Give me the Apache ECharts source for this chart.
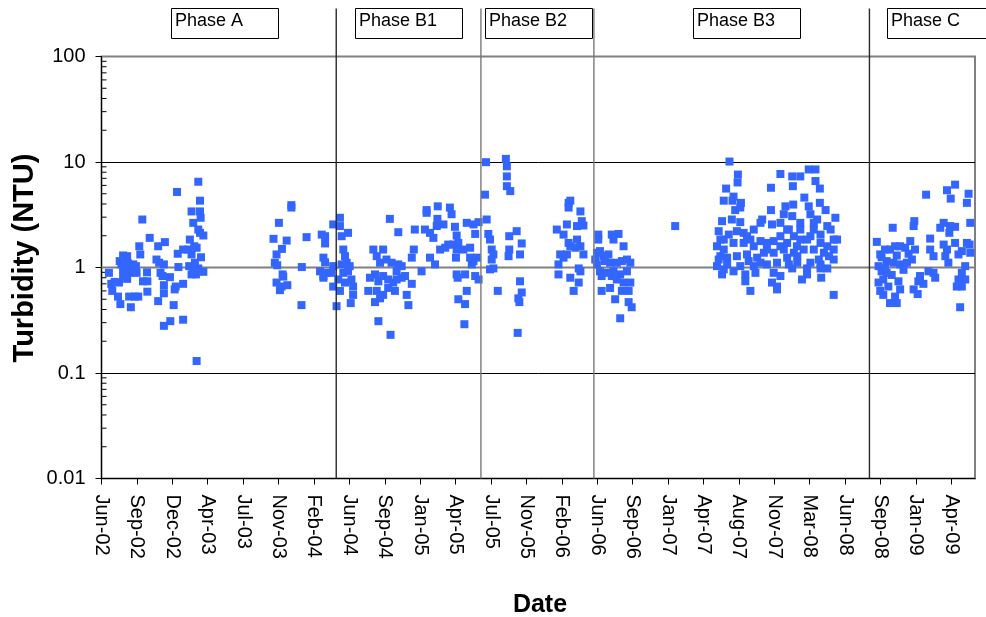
<!DOCTYPE html>
<html>
<head>
<meta charset="utf-8">
<script src="https://cdn.jsdelivr.net/npm/echarts@6/dist/echarts.min.js"></script>
<style>
  html, body { margin: 0; padding: 0; background: #ffffff; }
  #chart { width: 986px; height: 617px; }
</style>
</head>
<body>
<div id="chart"></div>
<script>
// Sample days are counted from 1 June 2002; turbidity in NTU.
const TICK_STEP_DAYS = 105;
const AXIS_END_DAY = 2590;

const tickLabels = ['Jun-02','Sep-02','Dec-02','Apr-03','Jul-03','Nov-03','Feb-04','Jun-04','Sep-04',
  'Jan-05','Apr-05','Jul-05','Nov-05','Feb-06','Jun-06','Sep-06','Jan-07','Apr-07','Aug-07','Nov-07',
  'Mar-08','Jun-08','Sep-08','Jan-09','Apr-09'];
const yTickLabels = ['0.01', '0.1', '1', '10', '100'];

const phaseNames = ['Phase A', 'Phase B1', 'Phase B2', 'Phase B3', 'Phase C'];
const phaseStartDays = [0, 696, 1125, 1460, 2277];

// [day, NTU]
const phaseA = [
  [22,0.89],[29,0.70],[32,0.60],[39,0.73],[52,0.72],[49,0.53],[56,0.45],[54,1.15],[64,1.30],[67,1.19],
  [59,1.07],[64,0.96],[69,0.92],[74,0.98],[79,1.09],[84,0.89],[76,0.78],[76,1.28],[64,0.83],[82,0.53],
  [87,0.42],[92,0.96],[94,1.07],[102,1.03],[104,0.89],[99,0.53],[109,0.53],[112,1.59],[115,1.33],[121,2.85],
  [123,0.74],[135,0.90],[136,0.74],[136,0.59],[143,1.91],[163,1.19],[168,1.59],[171,1.11],[175,0.89],[185,1.07],
  [188,1.74],[181,0.83],[185,0.68],[185,0.57],[168,0.48],[203,0.81],[185,0.28],[204,0.31],[214,0.44],[217,0.62],
  [220,0.66],[224,5.2],[226,1.35],[228,1.01],[242,1.48],[242,0.70],[242,0.32],[257,1.48],[262,1.84],[267,3.4],
  [267,1.33],[272,2.65],[275,1.59],[282,1.54],[260,1.03],[267,0.86],[272,0.96],[277,1.11],[280,0.86],[287,0.98],
  [295,1.25],[302,0.91],[287,6.5],[292,4.3],[292,3.4],[294,2.96],[287,2.29],[292,2.13],[302,2.01],[282,0.13],
  [510,1.87],[526,2.65],[563,3.9],[563,3.7],[549,1.80],[535,1.50],[519,1.33],[514,1.11],[521,1.05],[537,0.86],
  [539,0.82],[519,0.72],[534,0.66],[529,0.61],[551,0.68],[594,1.01],[593,0.44],[608,1.94],
  [653,2.05],[663,1.98],[663,1.69],[658,1.24],[663,1.12],[648,0.92],[658,0.83],[668,0.89],[658,0.80],
  [687,2.56],[682,0.89],[687,0.66],[687,1.03]
];

const phaseB1 = [
  [697,0.43],[707,2.96],[707,2.47],[712,1.98],[731,2.13],[717,1.48],[722,1.28],[727,1.11],[736,1.03],[731,0.92],
  [741,0.77],[746,0.66],[746,0.55],[739,0.46],[707,0.60],[712,1.07],[717,0.89],[702,0.77],[722,0.72],
  [855,2.89],[880,2.16],[929,2.29],[959,2.29],[964,3.5],[964,3.3],[997,3.8],[996,2.89],[1014,2.56],[1033,3.7],
  [1038,3.2],[1048,2.43],[1053,2.01],[974,2.13],[984,1.91],[994,2.47],
  [806,1.48],[816,1.28],[835,1.48],[826,1.11],[845,1.19],[860,1.11],[880,1.07],[875,0.92],[890,1.03],[796,0.80],
  [811,0.86],[821,0.74],[835,0.83],[850,0.77],[865,0.72],[875,0.77],[890,0.80],[900,0.83],[920,0.70],[791,0.60],
  [816,0.60],[835,0.55],[850,0.64],[870,0.60],[811,0.47],[826,0.51],[905,0.55],[910,0.44],[920,1.24],[926,1.48],
  [949,0.92],[821,0.31],[857,0.23],
  [974,1.24],[989,1.07],[1004,1.48],[1019,1.54],[1028,1.65],[1043,1.65],[1053,1.48],[1051,1.24],[1058,1.71],[1073,1.48],
  [1053,0.86],[1056,0.80],[1078,0.86],[1083,0.60],[1058,0.50],[1078,0.45],[1076,0.29],[1093,1.54],[1093,1.24],[1098,1.07],
  [1103,1.15],[1113,1.24],[1108,0.83],[1118,0.77],[1083,2.65],[1103,2.56],[1118,2.69],[1108,2.08]
];

const phaseB2 = [
  [1140,9.96],[1137,4.9],[1142,2.85],[1147,2.08],[1152,1.84],[1157,1.48],[1162,1.33],[1157,1.19],[1152,0.96],[1162,0.98],
  [1175,0.60],[1199,10.7],[1202,9.1],[1202,7.3],[1202,5.9],[1212,5.3],[1209,1.98],[1231,2.21],[1246,1.69],[1209,1.48],
  [1207,1.28],[1241,1.33],[1241,0.74],[1246,0.58],[1236,0.51],[1239,0.47],[1234,0.24],
  [1350,2.29],[1385,4.1],[1390,4.3],[1385,3.7],[1420,3.4],[1380,2.56],[1410,2.47],[1424,2.75],[1429,2.50],[1370,2.05],
  [1385,1.71],[1410,1.84],[1390,1.59],[1405,1.54],[1420,1.59],[1429,1.33],[1380,1.33],[1360,1.33],[1370,1.24],[1355,1.07],
  [1355,0.86],[1415,0.98],[1420,0.92],[1390,0.80],[1415,0.72],[1400,0.60]
];

const phaseB3 = [
  [1473,2.05],[1473,1.84],[1469,1.38],[1478,1.43],[1488,1.28],[1503,1.33],[1513,2.05],[1533,2.08],[1518,1.84],[1548,1.59],
  [1493,1.15],[1508,1.11],[1528,1.11],[1543,1.15],[1558,1.19],[1568,1.11],[1478,0.92],[1498,0.89],[1518,0.92],[1538,0.86],
  [1558,0.92],[1483,0.83],[1513,0.83],[1528,0.77],[1548,0.72],[1568,0.72],[1483,0.60],[1508,0.64],[1523,0.50],[1543,0.60],
  [1563,0.60],[1563,0.47],[1572,0.42],[1538,0.33],[1464,1.19],[1469,1.07],
  [1701,2.47],
  [1862,10.1],[1887,7.6],[1886,6.4],[1852,5.6],[1874,4.7],[1845,4.3],[1871,4.3],[1896,4.1],[1879,3.5],[1894,3.7],
  [1840,2.75],[1869,2.85],[1894,2.69],[1884,2.21],[1830,2.21],[1835,1.84],[1904,2.13],[1934,2.29],[1959,2.85],[1954,2.65],
  [1988,2.56],[1985,3.5],[1985,5.7],[2013,7.7],[2048,7.3],[2050,5.9],[2072,7.3],[2097,8.5],[2117,8.5],[2117,6.6],
  [2130,5.6],[2084,4.6],[2097,3.8],[2130,4.1],[2028,3.8],[2051,3.95],[2023,3.2],[2048,3.07],[2072,2.65],[2102,3.2],
  [2122,2.85],[2176,2.96],
  [1825,1.59],[1845,1.48],[1874,1.71],[1904,1.71],[1924,1.84],[1954,1.78],[1973,1.71],[1993,1.78],[2013,1.98],[2038,2.29],
  [2053,1.98],[2072,1.84],[2102,1.98],[2132,2.05],[2162,2.29],[2181,1.84],
  [1835,1.28],[1855,1.24],[1884,1.28],[1914,1.33],[1944,1.24],[1964,1.38],[1993,1.38],[2023,1.48],[2053,1.38],[2082,1.48],
  [2112,1.48],[2142,1.38],[2171,1.48],
  [1825,1.03],[1855,1.07],[1894,1.03],[1934,1.03],[1973,1.07],[2003,1.11],[2038,1.07],[2063,1.11],[2102,1.11],[2132,1.07],
  [2171,1.19],
  [1840,0.86],[1874,0.92],[1909,0.86],[1939,0.89],[1993,0.89],[2013,0.83],[2048,0.98],[2092,0.98],[2092,0.86],[2132,0.98],
  [2152,0.98],[1909,0.74],[1924,0.60],[1988,0.72],[2003,0.66],[2003,0.62],[2077,0.77],[2134,0.80],[2171,0.55],
  [1845,1.84],[1860,2.05],[1914,1.98],[1934,1.59],[1973,1.48],[2013,1.59],[2033,1.71],[2062,1.59],[2092,1.84],[2112,2.29],
  [2132,1.71],[2152,1.59],[2171,1.84],[2157,1.28],[2127,1.19],[2063,1.28],[2033,1.24],[2013,2.65],[2033,2.29],[2072,2.29],
  [2112,2.65],[2152,2.47],[2147,3.5],[1954,1.11],[1919,1.15],[1830,1.19],[1845,0.96]
];

const phaseC = [
  [2299,1.75],[2304,1.03],[2309,1.33],[2323,1.48],[2338,1.48],[2353,1.59],[2368,1.59],[2383,1.54],[2398,1.78],[2412,1.48],
  [2403,1.19],[2388,1.11],[2368,1.07],[2348,1.11],[2328,1.15],[2313,0.92],[2328,0.89],[2318,0.77],[2304,0.72],[2309,0.60],
  [2333,0.66],[2363,0.74],[2368,0.62],[2353,0.53],[2338,0.46],[2358,0.46],[2318,0.55],[2346,2.38],[2410,2.75],[2408,2.47],
  [2445,4.9],[2457,1.88],[2457,1.48],[2467,1.28],[2452,0.92],[2467,0.89],[2472,0.80],[2427,0.83],[2422,0.74],[2437,0.70],
  [2408,0.62],[2420,0.56],[2487,2.38],[2497,2.65],[2516,2.47],[2531,2.43],[2514,2.13],[2497,1.65],[2507,1.48],[2502,1.28],
  [2511,1.11],[2531,1.71],[2541,1.33],[2551,1.43],[2566,1.71],[2576,1.38],[2574,1.65],[2576,2.65],[2531,6.1],[2507,5.4],
  [2518,4.5],[2571,5.0],[2566,4.1],[2561,1.03],[2551,0.89],[2541,0.77],[2551,0.66],[2561,0.77],[2546,0.42],[2536,0.66],
  [2313,1.25],[2323,0.98],[2343,0.85],[2358,1.30],[2378,0.95],[2393,1.35]
];

// ---- derived helpers (axis ticks, minor log ticks) ----
const tickDays = tickLabels.map((_, i) => i * TICK_STEP_DAYS);
const minorTickValues = [];
for (let e = -2; e < 2; e++) {
  for (let k = 2; k <= 9; k++) minorTickValues.push([0, k * Math.pow(10, e)]);
}

const FONT = '"Liberation Sans", Arial, sans-serif';
const MARK_COLOR = '#3366FF';
const boundaryColors = ['#2a2a2a', '#7a7a7a', '#7a7a7a', '#2a2a2a'];
const phaseBoxLeft = [171.5, 355.5, 485.5, 693.5, 887.5];

const chart = echarts.init(document.getElementById('chart'), null, { renderer: 'canvas' });

function scatterSeries(name, data) {
  return {
    name, type: 'scatter', data, z: 5,
    symbol: 'rect', symbolSize: 8,
    itemStyle: { color: MARK_COLOR, opacity: 1 },
    emphasis: { disabled: true }, silent: true
  };
}

const phaseGraphics = [];
phaseNames.forEach((name, i) => {
  phaseGraphics.push({
    type: 'rect', silent: true, z: 10,
    shape: { x: phaseBoxLeft[i], y: 8.5, width: 107, height: 30 },
    style: { fill: '#ffffff', stroke: '#000000', lineWidth: 1 }
  });
  phaseGraphics.push({
    type: 'text', silent: true, z: 11,
    x: phaseBoxLeft[i] + 3.5, y: 21.5,
    style: { text: name, font: '18px ' + FONT, fill: '#000', textVerticalAlign: 'middle' }
  });
});

const option = {
  animation: false,
  backgroundColor: '#ffffff',
  grid: {
    left: 101.5, top: 56.5, width: 873.5, height: 422,
    show: true, borderColor: '#808080', borderWidth: 2, backgroundColor: 'transparent',
    containLabel: false
  },
  xAxis: {
    type: 'value', min: 0, max: AXIS_END_DAY, interval: TICK_STEP_DAYS,
    axisLine: { show: true, onZero: false, lineStyle: { color: '#000', width: 1 } },
    axisTick: { show: true, inside: false, length: 6, customValues: tickDays, lineStyle: { color: '#000' } },
    axisLabel: {
      customValues: tickDays, rotate: -90, margin: 16, fontSize: 20, fontFamily: FONT, color: '#000',
      formatter: v => tickLabels[Math.round(v / TICK_STEP_DAYS)] || ''
    },
    splitLine: { show: false }
  },
  yAxis: {
    type: 'log', logBase: 10, min: 0.01, max: 100,
    axisLine: { show: true, lineStyle: { color: '#000', width: 1 } },
    axisTick: { show: true, inside: false, length: 6, lineStyle: { color: '#000' } },
    axisLabel: {
      margin: 16, fontSize: 20, fontFamily: FONT, color: '#000',
      formatter: v => yTickLabels[Math.round(Math.log10(v)) + 2]
    },
    splitLine: { show: true, showMinLine: false, showMaxLine: false, lineStyle: { color: '#000', width: 1 } },
    minorTick: { show: false }
  },
  graphic: [
    {
      type: 'text', silent: true, x: 540, y: 605,
      style: { text: 'Date', font: 'bold 25px ' + FONT, fill: '#000', textAlign: 'center', textVerticalAlign: 'middle' }
    },
    {
      type: 'text', silent: true, x: 25, y: 258, rotation: Math.PI / 2,
      style: { text: 'Turbidity (NTU)', font: 'bold 29px ' + FONT, fill: '#000', textAlign: 'center', textVerticalAlign: 'middle' }
    }
  ].concat(phaseGraphics),
  series: [
    // grey reference line at 1 NTU
    {
      type: 'custom', silent: true, z: 3, clip: false,
      data: [[0, 1]],
      renderItem: (params, api) => {
        const a = api.coord([0, 1]);
        const b = api.coord([AXIS_END_DAY, 1]);
        return { type: 'line', shape: { x1: a[0], y1: a[1], x2: b[0], y2: b[1] },
          style: { stroke: '#808080', lineWidth: 2 } };
      }
    },
    // inward minor ticks on the log axis
    {
      type: 'custom', silent: true, z: 4, clip: false,
      data: minorTickValues,
      renderItem: (params, api) => {
        const p = api.coord([0, api.value(1)]);
        return { type: 'line', shape: { x1: p[0], y1: p[1], x2: p[0] + 5, y2: p[1] },
          style: { stroke: '#000', lineWidth: 1 } };
      }
    },
    // phase boundaries, running up beside the phase labels
    {
      type: 'custom', silent: true, z: 6, clip: false,
      data: phaseStartDays.slice(1).map((d, i) => [d, 100, i]),
      renderItem: (params, api) => {
        const top = api.coord([api.value(0), 100]);
        const bot = api.coord([api.value(0), 0.01]);
        return { type: 'line', shape: { x1: top[0], y1: top[1] - 48, x2: bot[0], y2: bot[1] },
          style: { stroke: boundaryColors[api.value(2)], lineWidth: 1.4 } };
      }
    },
    scatterSeries('Phase A', phaseA),
    scatterSeries('Phase B1', phaseB1),
    scatterSeries('Phase B2', phaseB2),
    scatterSeries('Phase B3', phaseB3),
    scatterSeries('Phase C', phaseC)
  ]
};

chart.setOption(option);
</script>
</body>
</html>
